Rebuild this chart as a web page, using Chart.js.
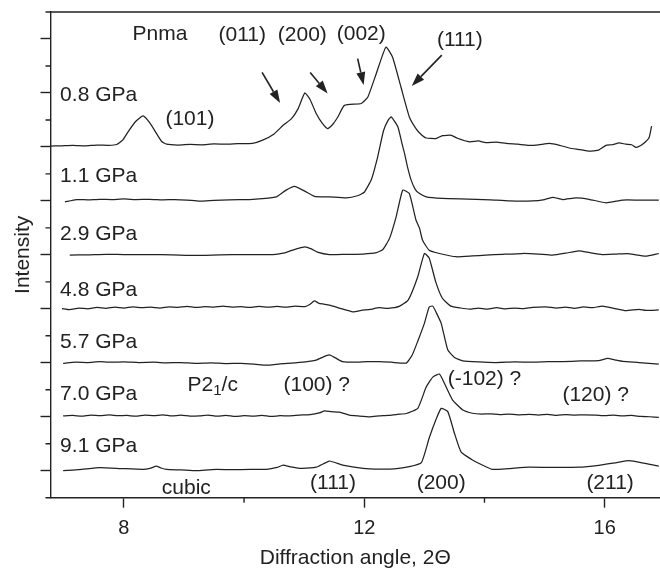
<!DOCTYPE html>
<html>
<head>
<meta charset="utf-8">
<script src="https://cdn.jsdelivr.net/npm/chart.js"></script>
<style>
  body { margin: 0; background: #fff; }
  #wrap { width: 660px; height: 573px; }
</style>
</head>
<body>
<div id="wrap"><canvas id="myChart" width="660" height="573"></canvas></div>
<script>
// pressure labels and the vertical offset of each pattern (in tick units)
const pressures = ['0.8 GPa', '1.1 GPa', '2.9 GPa', '4.8 GPa', '5.7 GPa', '7.0 GPa', '9.1 GPa'];
const offsets = [13, 11, 9, 7, 5, 3, 1];

// 2theta / intensity, one pair per pattern
const angle08 = [6.77, 6.95, 7.15, 7.35, 7.55, 7.75, 7.88, 7.98, 8.07, 8.20, 8.32, 8.43, 8.54, 8.63, 8.71, 8.90, 9.10, 9.30, 9.50, 9.70, 9.90, 10.14, 10.31, 10.50, 10.65, 10.79, 10.90, 11.01, 11.10, 11.20, 11.30, 11.39, 11.48, 11.56, 11.67, 11.95, 12.06, 12.20, 12.36, 12.47, 12.61, 12.75, 12.86, 12.95, 13.03, 13.19, 13.30, 13.45, 13.55, 13.75, 13.90, 14.02, 14.20, 14.36, 14.55, 14.74, 14.90, 15.08, 15.25, 15.41, 15.60, 15.74, 15.90, 16.02, 16.12, 16.24, 16.35, 16.45, 16.52, 16.60, 16.68, 16.74, 16.78];
const int08 = [0.03, 0.04, 0.06, 0.04, 0.07, 0.06, 0.09, 0.25, 0.56, 0.95, 1.15, 0.90, 0.51, 0.20, 0.10, 0.07, 0.09, 0.08, 0.11, 0.10, 0.12, 0.13, 0.25, 0.48, 0.80, 1.05, 1.42, 2.0, 1.75, 1.24, 0.88, 0.68, 0.85, 1.11, 1.54, 1.61, 1.85, 2.72, 3.70, 3.33, 2.22, 1.11, 0.68, 0.45, 0.33, 0.31, 0.42, 0.43, 0.32, 0.19, 0.22, 0.16, 0.18, 0.13, 0.10, 0.06, 0.08, 0.13, 0.06, -0.04, -0.10, -0.16, -0.12, 0.06, 0.08, 0.15, 0.10, 0.08, -0.02, 0.05, 0.19, 0.35, 0.77];

const angle11 = [7.02, 7.21, 7.40, 7.60, 7.80, 8.00, 8.20, 8.43, 8.65, 8.85, 9.05, 9.26, 9.50, 9.75, 10.09, 10.30, 10.54, 10.70, 10.84, 11.01, 11.17, 11.42, 11.70, 11.90, 12.00, 12.12, 12.22, 12.32, 12.40, 12.45, 12.56, 12.63, 12.67, 12.72, 12.78, 12.85, 12.92, 13.03, 13.30, 13.60, 13.86, 14.10, 14.41, 14.80, 15.00, 15.14, 15.30, 15.52, 15.74, 16.02, 16.30, 16.55, 16.90];
const int11 = [-0.04, 0.05, 0.04, 0.06, 0.05, 0.07, 0.05, 0.06, 0.04, 0.05, 0.03, -0.01, 0.02, 0.04, 0.05, 0.08, 0.15, 0.40, 0.54, 0.36, 0.17, 0.15, 0.11, 0.20, 0.32, 0.80, 1.60, 2.60, 3.00, 3.11, 2.74, 2.10, 1.76, 1.25, 0.77, 0.42, 0.27, 0.15, 0.09, 0.07, 0.06, 0.04, 0.0, 0.0, 0.05, 0.13, 0.05, 0.11, 0.06, -0.07, 0.03, 0.03, 0.03];

const angle29 = [7.10, 7.40, 7.70, 8.00, 8.43, 8.80, 9.20, 9.60, 10.00, 10.48, 10.65, 10.76, 10.90, 11.01, 11.12, 11.22, 11.42, 11.70, 11.98, 12.20, 12.31, 12.42, 12.53, 12.64, 12.75, 12.86, 12.92, 12.97, 13.08, 13.25, 13.53, 13.80, 14.02, 14.30, 14.63, 14.90, 15.13, 15.35, 15.57, 15.75, 15.96, 16.20, 16.41, 16.68, 16.90];
const int29 = [-0.01, 0.0, 0.02, 0.01, 0.01, 0.0, -0.02, 0.0, 0.01, 0.01, 0.06, 0.14, 0.24, 0.30, 0.22, 0.10, 0.01, 0.02, 0.03, 0.08, 0.20, 0.61, 1.41, 2.40, 2.27, 1.29, 0.98, 0.54, 0.17, 0.05, -0.07, -0.04, -0.01, 0.02, 0.05, 0.03, -0.01, 0.06, 0.15, 0.08, 0.01, 0.03, 0.04, -0.05, 0.05];

const angle48 = [6.97, 7.10, 7.25, 7.40, 7.55, 7.70, 7.85, 8.00, 8.15, 8.30, 8.45, 8.60, 8.75, 8.90, 9.05, 9.20, 9.35, 9.50, 9.65, 9.80, 9.95, 10.10, 10.25, 10.40, 10.55, 10.70, 10.85, 11.01, 11.10, 11.17, 11.25, 11.42, 11.60, 11.81, 11.95, 12.10, 12.25, 12.40, 12.58, 12.73, 12.89, 13.00, 13.08, 13.19, 13.30, 13.44, 13.60, 13.75, 13.90, 14.05, 14.20, 14.35, 14.50, 14.65, 14.80, 15.02, 15.20, 15.35, 15.50, 15.65, 15.80, 15.96, 16.15, 16.35, 16.57, 16.68, 16.90];
const int48 = [0.01, -0.03, 0.03, 0.0, 0.05, 0.02, 0.06, 0.03, 0.07, 0.04, 0.06, 0.03, 0.07, 0.05, 0.09, 0.05, 0.08, 0.06, 0.10, 0.06, 0.08, 0.05, 0.09, 0.06, 0.09, 0.06, 0.10, 0.08, 0.17, 0.29, 0.20, 0.14, 0.02, -0.11, -0.06, -0.02, 0.04, 0.02, 0.09, 0.32, 1.19, 2.05, 1.88, 0.99, 0.39, 0.10, 0.03, -0.01, 0.03, -0.01, 0.04, 0.0, 0.03, 0.01, 0.05, 0.07, 0.03, 0.06, 0.02, 0.07, 0.04, 0.10, 0.02, -0.07, -0.02, -0.06, -0.04];

const angle57 = [6.99, 7.20, 7.40, 7.60, 7.80, 8.00, 8.25, 8.50, 8.71, 8.95, 9.20, 9.45, 9.70, 9.95, 10.20, 10.37, 10.60, 10.85, 11.05, 11.20, 11.32, 11.42, 11.52, 11.64, 11.85, 12.05, 12.25, 12.45, 12.70, 12.80, 12.89, 13.00, 13.08, 13.14, 13.20, 13.28, 13.39, 13.50, 13.64, 13.90, 14.19, 14.50, 14.80, 15.05, 15.30, 15.60, 15.90, 16.05, 16.18, 16.30, 16.57, 16.90];
const int57 = [-0.02, 0.02, 0.01, 0.04, 0.02, 0.03, 0.01, 0.02, 0.0, 0.01, -0.02, 0.0, -0.03, -0.02, -0.06, -0.09, -0.04, 0.0, 0.04, 0.10, 0.22, 0.29, 0.18, 0.04, 0.02, 0.04, 0.04, 0.02, -0.01, 0.30, 0.80, 1.46, 2.07, 2.10, 1.85, 1.46, 0.47, 0.20, 0.07, 0.03, 0.01, 0.03, 0.02, 0.04, 0.04, 0.07, 0.08, 0.16, 0.10, 0.05, 0.01, -0.05];

const angle70 = [6.99, 7.15, 7.30, 7.45, 7.60, 7.75, 7.90, 8.05, 8.20, 8.35, 8.50, 8.65, 8.80, 8.95, 9.10, 9.26, 9.40, 9.55, 9.70, 9.85, 10.00, 10.15, 10.30, 10.45, 10.60, 10.75, 10.92, 11.10, 11.25, 11.34, 11.45, 11.59, 11.75, 11.90, 12.09, 12.25, 12.40, 12.55, 12.70, 12.89, 13.03, 13.14, 13.25, 13.36, 13.47, 13.64, 13.80, 13.95, 14.10, 14.25, 14.40, 14.55, 14.74, 14.90, 15.05, 15.20, 15.35, 15.50, 15.65, 15.85, 16.00, 16.15, 16.30, 16.45, 16.60, 16.75, 16.90];
const int70 = [0.03, 0.05, 0.02, 0.06, 0.04, 0.07, 0.04, 0.05, 0.02, 0.06, 0.04, 0.07, 0.03, 0.06, 0.02, 0.03, 0.06, 0.02, 0.05, 0.01, 0.04, 0.02, 0.05, 0.01, 0.04, 0.03, 0.06, 0.08, 0.14, 0.22, 0.19, 0.17, 0.06, 0.03, 0.0, 0.03, 0.05, 0.09, 0.12, 0.31, 1.10, 1.47, 1.58, 1.11, 0.62, 0.25, 0.13, 0.10, 0.11, 0.08, 0.10, 0.07, 0.09, 0.06, 0.09, 0.05, 0.08, 0.06, 0.07, 0.06, 0.04, 0.06, 0.03, 0.05, 0.01, 0.0, -0.02];

const angle91 = [6.99, 7.30, 7.60, 7.95, 8.32, 8.45, 8.54, 8.62, 8.71, 8.95, 9.21, 9.40, 9.54, 9.80, 10.10, 10.37, 10.55, 10.65, 10.78, 10.92, 11.20, 11.42, 11.64, 11.98, 12.25, 12.50, 12.75, 12.95, 13.08, 13.19, 13.28, 13.39, 13.50, 13.61, 13.80, 14.13, 14.40, 14.74, 15.10, 15.57, 15.90, 16.20, 16.41, 16.65, 16.90];
const int91 = [0.0, 0.05, 0.11, 0.08, 0.05, 0.10, 0.17, 0.10, 0.05, 0.03, 0.0, 0.03, 0.05, 0.04, 0.05, 0.05, 0.12, 0.21, 0.14, 0.09, 0.13, 0.36, 0.21, 0.09, 0.06, 0.07, 0.15, 0.30, 1.21, 1.88, 2.31, 2.19, 1.39, 0.70, 0.40, 0.05, 0.08, 0.13, 0.12, 0.13, 0.20, 0.30, 0.37, 0.28, 0.17];

const angles = [angle08, angle11, angle29, angle48, angle57, angle70, angle91];
const intensities = [int08, int11, int29, int48, int57, int70, int91];

// axis ticks
const xMajor = [8, 12, 16];
const xMinor = [10, 14];
const yMajor = [1, 3, 5, 7, 9, 11, 13, 15, 17];
const yMinor = [0, 2, 4, 6, 8, 10, 12, 14, 16, 18];

// reflection labels (x in 2theta, y in tick units)
const notes = [
  { text: 'Pnma', x: 8.60, y: 17.16 },
  { text: '(011)', x: 9.97, y: 17.14 },
  { text: '(200)', x: 10.97, y: 17.14 },
  { text: '(002)', x: 11.95, y: 17.17 },
  { text: '(111)', x: 13.59, y: 16.95 },
  { text: '(101)', x: 9.10, y: 14.04 },
  { text: '(100) ?', x: 11.21, y: 4.16 },
  { text: '(-102) ?', x: 14.00, y: 4.38 },
  { text: '(120) ?', x: 15.85, y: 3.79 },
  { text: 'cubic', x: 9.04, y: 0.37 },
  { text: '(111)', x: 11.48, y: 0.53 },
  { text: '(200)', x: 13.28, y: 0.53 },
  { text: '(211)', x: 16.09, y: 0.53 }
];
const pressureX = 6.94;
const pressureY = [14.91, 11.93, 9.78, 7.68, 5.77, 3.84, 1.89];
const arrows = [
  [10.30, 15.76, 10.60, 14.63],
  [11.10, 15.76, 11.39, 14.98],
  [11.89, 16.27, 11.99, 15.29],
  [13.29, 16.40, 12.79, 15.26]
];

const ink = '#222222';
const fontFam = '"Liberation Sans", Arial, sans-serif';
Chart.defaults.font.family = fontFam;
Chart.defaults.color = ink;

const decor = {
  id: 'decor',
  afterDraw(chart) {
    const { ctx, chartArea: a, scales: { x, y } } = chart;
    ctx.save();
    ctx.strokeStyle = ink;
    ctx.lineWidth = 1.4;
    ctx.beginPath();
    ctx.moveTo(a.left, a.top);
    ctx.lineTo(a.right, a.top);
    xMinor.forEach(v => {
      const px = x.getPixelForValue(v);
      ctx.moveTo(px, a.bottom);
      ctx.lineTo(px, a.bottom + 5);
    });
    yMinor.forEach(v => {
      const py = y.getPixelForValue(v);
      ctx.moveTo(a.left, py);
      ctx.lineTo(a.left - 5, py);
    });
    ctx.stroke();

    ctx.fillStyle = ink;
    ctx.font = '21px ' + fontFam;
    ctx.textBaseline = 'middle';
    ctx.textAlign = 'center';
    notes.forEach(n => ctx.fillText(n.text, x.getPixelForValue(n.x), y.getPixelForValue(n.y)));
    ctx.textAlign = 'left';
    pressures.forEach((p, i) => ctx.fillText(p, x.getPixelForValue(pressureX), y.getPixelForValue(pressureY[i])));

    // P2_1/c with a real subscript
    let px = x.getPixelForValue(9.06), py = y.getPixelForValue(4.16);
    ctx.fillText('P2', px, py);
    px += ctx.measureText('P2').width;
    ctx.font = '15px ' + fontFam;
    ctx.fillText('1', px, py + 5);
    px += ctx.measureText('1').width;
    ctx.font = '21px ' + fontFam;
    ctx.fillText('/c', px, py);

    // arrows
    ctx.lineWidth = 1.6;
    arrows.forEach(([x0, y0, x1, y1]) => {
      const sx = x.getPixelForValue(x0), sy = y.getPixelForValue(y0);
      const ex = x.getPixelForValue(x1), ey = y.getPixelForValue(y1);
      const ang = Math.atan2(ey - sy, ex - sx);
      const hl = 13, hw = 4.5;
      const bx = ex - hl * Math.cos(ang), by = ey - hl * Math.sin(ang);
      ctx.beginPath();
      ctx.moveTo(sx, sy);
      ctx.lineTo(bx, by);
      ctx.stroke();
      ctx.beginPath();
      ctx.moveTo(ex, ey);
      ctx.lineTo(bx - hw * Math.sin(ang), by + hw * Math.cos(ang));
      ctx.lineTo(bx + hw * Math.sin(ang), by - hw * Math.cos(ang));
      ctx.closePath();
      ctx.fill();
    });
    ctx.restore();
  }
};

function setup() {
  const ctx = document.getElementById('myChart').getContext('2d');
  const datasets = pressures.map((p, i) => ({
    label: p,
    data: angles[i].map((a, j) => ({ x: a, y: intensities[i][j] + offsets[i] })),
    borderColor: ink,
    borderWidth: 1.25,
    pointRadius: 0,
    fill: false,
    tension: 0.15
  }));

  new Chart(ctx, {
    type: 'line',
    data: { datasets },
    options: {
      responsive: false,
      animation: false,
      devicePixelRatio: 1,
      layout: { padding: { top: 12, right: 0, left: 0, bottom: 0 } },
      plugins: { legend: { display: false }, tooltip: { enabled: false } },
      scales: {
        x: {
          type: 'linear',
          min: 6.78,
          max: 16.92,
          afterBuildTicks: s => { s.ticks = xMajor.map(v => ({ value: v })); },
          afterFit: s => { s.height = 75.3; },
          ticks: { font: { size: 20 }, color: ink, padding: 9, maxRotation: 0 },
          grid: { display: true, drawOnChartArea: false, drawTicks: true, tickLength: 10, tickWidth: 1.4, tickColor: ink },
          border: { display: true, color: ink, width: 1.4 },
          title: { display: true, text: 'Diffraction angle, 2Θ', font: { size: 21 }, color: ink, padding: { top: 0, bottom: 2 } }
        },
        y: {
          type: 'linear',
          min: 0,
          max: 18,
          afterBuildTicks: s => { s.ticks = yMajor.map(v => ({ value: v })); },
          afterFit: s => { s.width = 50.5; },
          ticks: { display: false },
          grid: { display: true, drawOnChartArea: false, drawTicks: true, tickLength: 10, tickWidth: 1.4, tickColor: ink },
          border: { display: true, color: ink, width: 1.4 },
          title: { display: true, text: 'Intensity', font: { size: 21 }, color: ink, padding: { top: 11, bottom: 0 } }
        }
      }
    },
    plugins: [decor]
  });
}
setup();
</script>
</body>
</html>
